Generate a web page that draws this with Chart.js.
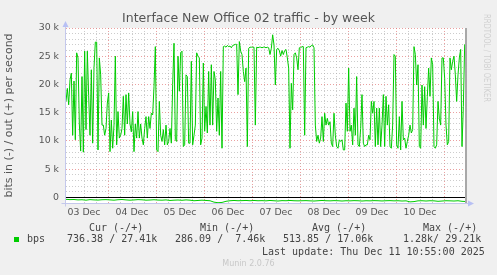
<!DOCTYPE html>
<html lang="en">
<head>
<meta charset="UTF-8">
<title>Interface New Office 02 traffic - by week</title>
<script src="https://cdn.jsdelivr.net/npm/chart.js@4"></script>
<style>
  html, body { margin: 0; padding: 0; background: #f0f0f0; }
  #wrap { position: relative; width: 497px; height: 275px; overflow: hidden; }
  #chart { position: absolute; left: 0; top: 0; }
  .title {
    position: absolute; left: 0; top: 10px; width: 497px; text-align: center;
    font: 12.5px "DejaVu Sans", sans-serif; color: #555; line-height: 15px;
  }
  .mono {
    position: absolute; white-space: pre; line-height: 12px;
    font: 10px "DejaVu Sans Mono", monospace; color: #444;
  }
  .swatch { position: absolute; left: 14px; top: 237px; width: 5px; height: 5px; background: #00cc00; }
  .munin {
    position: absolute; left: 0; top: 259px; width: 497px; text-align: center;
    font: 8px "DejaVu Sans", sans-serif; color: #c8c8c8; line-height: 10px;
  }
  .rrd {
    position: absolute; left: 482px; top: 14px; writing-mode: vertical-rl;
    font: 9px "DejaVu Sans", sans-serif; color: #d0d0d0; white-space: nowrap;
    transform: scale(1, 0.76); transform-origin: 0 0;
  }
</style>
</head>
<body>
<div id="wrap">
  <canvas id="chart" width="497" height="275"></canvas>
  <div class="title">Interface New Office 02 traffic - by week</div>
  <div class="rrd">RRDTOOL / TOBI OETIKER</div>
  <div id="legend"></div>
  <div class="munin">Munin 2.0.76</div>
</div>

<script>
// time axis: hours since 03 Dec 00:00, one sample every 40 minutes
const startHour = 3;
const sampleStep = 2 / 3;
const dayLabels = ['03 Dec', '04 Dec', '05 Dec', '06 Dec', '07 Dec', '08 Dec', '09 Dec', '10 Dec'];

// out (+) traffic, in k bits/s
const outDec03 = [17, 19.3, 16.4, 20.8, 22, 11, 20.6, 10.2, 25.6, 24.7, 13, 8.2, 21.4, 8, 25.9, 12,
  25.9, 18, 11, 22.6, 9.6, 23, 27.5, 27.5, 8.4, 24.7, 21.7, 12.8, 12.8, 11, 12.2, 16.7];
const outDec04 = [18.5, 8.1, 13.7, 8.7, 12.8, 25, 9.3, 15.2, 10.5, 11, 12.2, 17.9, 11, 18.2, 13, 18.5,
  13, 11.6, 15.2, 8.1, 13, 10.5, 15.2, 10.5, 13, 10.5, 9.3, 12.2, 14.3, 10.5, 14.3, 12.2, 14.9, 14.6, 19.6, 26.7];
const outDec05 = [8.4, 8.1, 17, 11, 9.9, 12, 9.3, 12.8, 9.3, 9.9, 12.2, 9.6, 20, 27.3, 10.2, 9.9,
  25, 18.8, 25.6, 25.9, 9, 9.3, 21.7, 21.4, 9.6, 9.6, 24.1, 9.3, 11, 12.8, 25.6, 25, 24.7, 9.3, 10.5, 23.8];
const outDec06 = [11.7, 16.1, 11.4, 22.3, 12.8, 23.5, 12.8, 22.3, 20.8, 11.7, 17.6, 11, 22.3, 8.7, 26.7, 26.8,
  26.6, 26.9, 26.7, 26.8, 26.5, 26.9, 27, 27.1, 27.1, 18.2, 27.6, 25.9, 25.3, 22.3, 20.5, 22.9, 9, 26.4, 26.6, 26.6];
const outDec07 = [26.6, 26.6, 12.8, 26.6, 26.5, 26.6, 26.6, 26.5, 26.6, 26.6, 26.5, 26.6, 26.5, 25.3, 26.4, 28.8,
  27, 19.9, 26.2, 26.4, 26, 25, 26, 25.3, 26, 26.2, 24.7, 22.9, 8.7, 20.2, 15.5, 25.3, 25.6, 24.7, 22.6, 26.5];
const outDec08 = [26.5, 26.7, 26.7, 11, 26.5, 26.6, 26.7, 26.6, 26.9, 27, 26.5, 12.8, 9.9, 11, 9.6, 10.5,
  14.3, 9.9, 14.9, 12.8, 14, 12.8, 13.4, 9.6, 9, 14.9, 11, 9, 8.7, 10.2, 9.9, 10.2, 8.4, 8.4, 16.7, 11.7];
const outDec09 = [22.9, 11.7, 12.8, 9.3, 15.8, 11, 21.4, 9.3, 9, 12.2, 18.2, 9.6, 9, 9.3, 9.3, 11,
  10.2, 17, 14.9, 17, 9, 15.8, 9.3, 15.8, 9, 12.8, 18.2, 9, 17.9, 12.8, 16.4, 9, 8.7, 12.8, 25.3, 25];
const outDec10 = [9.3, 8.7, 14.3, 8.4, 17, 10.2, 10.5, 8.7, 9.9, 11, 12.8, 11.4, 12, 26.7, 25.3, 19.9,
  23.5, 9, 8.7, 19.9, 12.8, 19.6, 12.2, 17.9, 22.9, 17.9, 24.7, 23.5, 9, 8.7, 9.3, 17, 14, 12.8, 24.7, 24.7];
const outDec11 = [21.1, 12.8, 9.3, 9.9, 24.7, 22.6, 24.1, 25, 21.7, 17, 21.7, 24.7, 26.2, 9, 16.1, 27, 27.4];

// in (-) traffic, in k bits/s, one sample every 2 hours
const inStep = 2;
const inValues = [
  -0.35, -0.4, -0.38, -0.45, -0.42, -0.5, -0.4, -0.45, -0.48, -0.42, -0.4,
  -0.45, -0.5, -0.42, -0.38, -0.45, -0.5, -0.46, -0.4, -0.43, -0.5, -0.47, -0.42,
  -0.48, -0.5, -0.45, -0.55, -0.5, -0.47, -0.52, -0.45, -0.5, -0.6, -0.55, -0.5,
  -0.55, -0.6, -0.85, -0.95, -0.9, -0.7, -0.6, -0.55, -0.6, -0.58, -0.55, -0.6,
  -0.55, -0.6, -0.58, -0.62, -0.55, -0.6, -0.65, -0.58, -0.6, -0.55, -0.6, -0.62,
  -0.6, -0.58, -0.62, -0.65, -0.6, -0.55, -0.6, -0.62, -0.58, -0.6, -0.65, -0.6,
  -0.62, -0.58, -0.6, -0.65, -0.6, -0.62, -0.58, -0.6, -0.64, -0.6, -0.58, -0.62,
  -0.6, -0.65, -0.62, -0.8, -0.75, -0.62, -0.6, -0.65, -0.6, -0.62, -0.7, -0.65,
  -0.6, -0.62, -0.65, -0.6, -0.7, -0.74
];

// legend table
const legendHeads = ['Cur (-/+)', 'Min (-/+)', 'Avg (-/+)', 'Max (-/+)'];
const legendValues = ['736.38 / 27.41k', '286.09 /  7.46k', '513.85 / 17.06k', '1.28k/ 29.21k'];
const lastUpdate = 'Last update: Thu Dec 11 10:55:00 2025';

const outValues = [].concat(outDec03, outDec04, outDec05, outDec06, outDec07, outDec08, outDec09, outDec10, outDec11);
const outPoints = outValues.map((v, i) => ({ x: startHour + i * sampleStep, y: v }));
const inPoints = inValues.map((v, i) => ({ x: startHour + i * inStep, y: v }));

// legend text
const legend = document.getElementById('legend');
function addText(txt, left, top) {
  const d = document.createElement('div');
  d.className = 'mono';
  d.style.left = left + 'px';
  d.style.top = top + 'px';
  d.textContent = txt;
  legend.appendChild(d);
}
[89, 200, 312, 423].forEach((x, i) => addText(legendHeads[i], x, 222));
const sw = document.createElement('div');
sw.className = 'swatch';
legend.appendChild(sw);
addText('bps', 27, 233);
[67, 175, 283, 403].forEach((x, i) => addText(legendValues[i], x, 233));
addText(lastUpdate, 262, 246);

const RED = 'rgba(225, 120, 120, 0.7)';
const GREY = 'rgba(170, 170, 170, 0.6)';
const AXIS = '#c4c8ec';

const muninFrame = {
  id: 'muninFrame',
  beforeDraw(chart) {
    const { ctx, chartArea: a } = chart;
    ctx.save();
    ctx.fillStyle = '#ffffff';
    ctx.fillRect(a.left, a.top, a.right - a.left, a.bottom - a.top);
    ctx.restore();
  },
  afterDatasetsDraw(chart) {
    const { ctx, chartArea: a, scales: { y } } = chart;
    const y0 = Math.round(y.getPixelForValue(0)) + 0.5;
    ctx.save();
    ctx.strokeStyle = '#000';
    ctx.lineWidth = 1;
    ctx.beginPath();
    ctx.moveTo(a.left, y0);
    ctx.lineTo(a.right, y0);
    ctx.stroke();

    // axes with arrows
    const ax = a.left - 0.5, ay = a.bottom + 0.5;
    ctx.strokeStyle = AXIS;
    ctx.beginPath();
    ctx.moveTo(ax, ay + 3);
    ctx.lineTo(ax, a.top - 4);
    ctx.moveTo(ax - 4, ay);
    ctx.lineTo(a.right + 5, ay);
    ctx.stroke();
    ctx.fillStyle = '#b8c0f4';
    ctx.beginPath();
    ctx.moveTo(ax - 3, a.top - 1);
    ctx.lineTo(ax + 3, a.top - 1);
    ctx.lineTo(ax, a.top - 7);
    ctx.closePath();
    ctx.fill();
    ctx.beginPath();
    ctx.moveTo(a.right + 2, ay - 3);
    ctx.lineTo(a.right + 2, ay + 3);
    ctx.lineTo(a.right + 8, ay);
    ctx.closePath();
    ctx.fill();

    // right edge
    ctx.strokeStyle = '#a8a8a8';
    ctx.lineWidth = 2;
    ctx.beginPath();
    ctx.moveTo(a.right, a.top);
    ctx.lineTo(a.right, a.bottom);
    ctx.stroke();
    ctx.restore();
  }
};

new Chart(document.getElementById('chart'), {
  type: 'line',
  data: {
    datasets: [
      { data: outPoints, borderColor: '#00cc00', borderWidth: 1, pointRadius: 0, tension: 0, fill: false },
      { data: inPoints, borderColor: '#00cc00', borderWidth: 1, pointRadius: 0, tension: 0, fill: false }
    ]
  },
  options: {
    responsive: false,
    animation: false,
    events: [],
    layout: { padding: { top: 28, right: 31, left: 0, bottom: 0 } },
    plugins: { legend: { display: false }, tooltip: { enabled: false }, title: { display: false } },
    scales: {
      x: {
        type: 'linear',
        min: 3,
        max: 203,
        afterFit: s => { s.height = 72; },
        border: { display: false, dash: [1, 2] },
        grid: {
          drawTicks: false,
          color: c => c.tick.value % 24 === 0 ? RED : (c.tick.value % 6 === 0 ? GREY : 'rgba(0,0,0,0)')
        },
        ticks: {
          stepSize: 6,
          autoSkip: false,
          maxRotation: 0,
          padding: 4,
          color: '#555',
          font: { family: 'DejaVu Sans', size: 9.4 },
          callback: v => v % 24 === 12 ? (dayLabels[(v - 12) / 24] || '') : ''
        }
      },
      y: {
        min: -1,
        max: 30,
        afterFit: s => { s.width = 66; },
        border: { display: false, dash: [1, 2] },
        grid: {
          drawTicks: false,
          color: c => {
            const v = c.tick.value;
            if (v <= 0) return 'rgba(0,0,0,0)';
            return v % 5 === 0 ? RED : GREY;
          }
        },
        ticks: {
          stepSize: 1,
          autoSkip: false,
          padding: 7,
          color: '#555',
          font: { family: 'DejaVu Sans', size: 9.4 },
          callback: v => v % 5 === 0 ? (v === 0 ? '0' : v + ' k') : ''
        },
        title: {
          display: true,
          text: 'bits in (-) / out (+) per second',
          color: '#555',
          font: { family: 'DejaVu Sans', size: 11 },
          padding: { top: 3, bottom: 0 }
        }
      }
    }
  },
  plugins: [muninFrame]
});
</script>
</body>
</html>
